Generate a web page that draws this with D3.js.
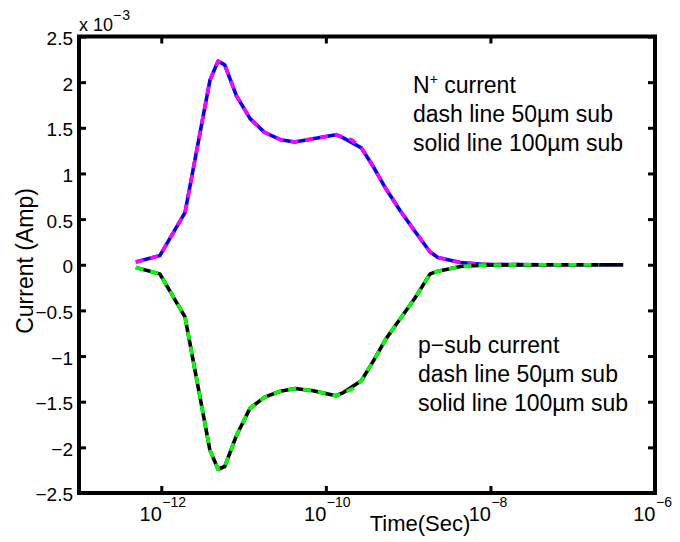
<!DOCTYPE html>
<html>
<head>
<meta charset="utf-8">
<script src="https://cdn.jsdelivr.net/npm/d3@7"></script>
<style>
  html, body { margin: 0; padding: 0; background: #fff; }
  text { font-family: "Liberation Sans", Arial, Helvetica, sans-serif; fill: #000; }
</style>
</head>
<body>
<script>
// ---- Data (current in units of 1e-3 A, time in seconds) ----
const timeSolid = [4.9e-13, 9.6e-13, 1.94e-12, 3.9e-12, 4.9e-12, 5.9e-12, 8.2e-12, 1.2e-11, 1.8e-11, 2.8e-11, 4.2e-11, 7.0e-11, 1.33e-10, 1.63e-10, 2.7e-10, 3.8e-10, 5.3e-10, 7.9e-10, 1.2e-9, 1.85e-9, 2.3e-9, 4.3e-9, 8e-9, 2e-8, 5e-8, 1e-7, 2e-7, 4.1e-7];
const nplusSolid = [0.03, 0.10, 0.57, 2.02, 2.23, 2.19, 1.85, 1.60, 1.45, 1.37, 1.345, 1.38, 1.425, 1.39, 1.28, 1.07, 0.84, 0.60, 0.37, 0.14, 0.08, 0.025, 0.005, 0.001, 0, 0, 0, 0];
const psubSolid = [-0.03, -0.10, -0.57, -2.03, -2.24, -2.21, -1.87, -1.57, -1.45, -1.385, -1.355, -1.38, -1.435, -1.40, -1.27, -1.05, -0.82, -0.60, -0.37, -0.10, -0.07, -0.02, -0.004, -0.001, 0, 0, 0, 0];

const timeDash = [4.9e-13, 9.6e-13, 1.94e-12, 3.9e-12, 4.9e-12, 5.9e-12, 8.2e-12, 1.2e-11, 1.8e-11, 2.8e-11, 4.2e-11, 7.0e-11, 1.33e-10, 2.1e-10, 2.7e-10, 3.8e-10, 5.3e-10, 7.9e-10, 1.2e-9, 1.85e-9, 2.3e-9, 4.3e-9, 8e-9, 2e-8, 5e-8, 1e-7, 2.1e-7];
const nplusDash = [0.03, 0.10, 0.57, 2.02, 2.23, 2.19, 1.85, 1.60, 1.45, 1.37, 1.345, 1.38, 1.425, 1.365, 1.28, 1.07, 0.84, 0.60, 0.37, 0.14, 0.08, 0.025, 0.005, 0.001, 0, 0, 0];
const psubDash = [-0.03, -0.10, -0.57, -2.03, -2.24, -2.21, -1.87, -1.57, -1.45, -1.385, -1.355, -1.38, -1.435, -1.36, -1.27, -1.05, -0.82, -0.60, -0.37, -0.10, -0.07, -0.02, -0.004, -0.001, 0, 0, 0];

const xTicks = [1e-12, 1e-10, 1e-8, 1e-6];
const yTicks = [-2.5, -2, -1.5, -1, -0.5, 0, 0.5, 1, 1.5, 2, 2.5];

const nplusText = ["current", "dash line 50\u00b5m sub", "solid line 100\u00b5m sub"];
const psubText = ["p\u2212sub current", "dash line 50\u00b5m sub", "solid line 100\u00b5m sub"];

// ---- Layout ----
const W = 680, H = 542;
const L = 79, R = 655, T = 36.5, B = 493;

const svg = d3.select("body").append("svg").attr("width", W).attr("height", H);
svg.append("rect").attr("width", W).attr("height", H).attr("fill", "#fff");

const x = d3.scaleLog().domain([1e-13, 1e-6]).range([L, R]);
const y = d3.scaleLinear().domain([-2.5, 2.5]).range([B, T]);

const lineGen = (ts) => d3.line().x((d, i) => x(ts[i])).y(d => y(d));

// ---- Curves ----
const curves = [
  { t: timeSolid, v: nplusSolid, color: "#0000ff", dash: null },
  { t: timeDash,  v: nplusDash,  color: "#ff00ff", dash: "8,7" },
  { t: timeSolid, v: psubSolid,  color: "#000000", dash: null },
  { t: timeDash,  v: psubDash,   color: "#00ff00", dash: "8,7" }
];
curves.forEach(c => {
  svg.append("path")
    .attr("d", lineGen(c.t)(c.v))
    .attr("fill", "none")
    .attr("stroke", c.color)
    .attr("stroke-width", 3.6)
    .attr("stroke-linejoin", "round")
    .attr("stroke-dasharray", c.dash);
});

// ---- Axes ----
const tickLen = 7;
function styleAxis(g) {
  g.select(".domain").remove();
  g.selectAll(".tick line").attr("stroke", "#000").attr("stroke-width", 3);
}
svg.append("g").attr("transform", `translate(0,${B})`)
  .call(d3.axisBottom(x).tickValues(xTicks).tickSizeInner(-tickLen).tickSizeOuter(0).tickFormat(() => ""))
  .call(styleAxis)
  .call(g => {
    g.selectAll(".tick").each(function(d) {
      const e = Math.round(Math.log10(d));
      const gt = d3.select(this);
      gt.append("text").attr("x", 0).attr("y", 28).attr("text-anchor", "end")
        .attr("font-size", 20).text("10");
      gt.append("text").attr("x", 0.5).attr("y", 14).attr("text-anchor", "start")
        .attr("font-size", 14).text("\u2212" + Math.abs(e));
    });
  });
svg.append("g").attr("transform", `translate(0,${T})`)
  .call(d3.axisTop(x).tickValues(xTicks).tickSizeInner(-tickLen).tickSizeOuter(0).tickFormat(() => ""))
  .call(styleAxis);
svg.append("g").attr("transform", `translate(${L},0)`)
  .call(d3.axisLeft(y).tickValues(yTicks).tickSizeInner(-tickLen).tickSizeOuter(0)
    .tickFormat(v => (v < 0 ? "\u2212" : "") + Math.abs(v)))
  .call(styleAxis)
  .call(g => g.selectAll(".tick text")
    .attr("x", -6).attr("dy", "0.42em").attr("font-size", 19)
    .attr("font-family", "Liberation Sans, Arial, sans-serif").attr("fill", "#000"));
svg.append("g").attr("transform", `translate(${R},0)`)
  .call(d3.axisRight(y).tickValues(yTicks).tickSizeInner(-tickLen).tickSizeOuter(0).tickFormat(() => ""))
  .call(styleAxis);

// Frame
svg.append("rect").attr("x", L).attr("y", T).attr("width", R - L).attr("height", B - T)
  .attr("fill", "none").attr("stroke", "#000").attr("stroke-width", 4);

// Exponent multiplier
svg.append("text").attr("x", L).attr("y", 31).attr("font-size", 18).text("x 10");
svg.append("text").attr("x", 113).attr("y", 20).attr("font-size", 14).attr("letter-spacing", 1).text("\u22123");

// Axis labels
svg.append("text").attr("x", 420).attr("y", 531).attr("text-anchor", "middle")
  .attr("font-size", 22).text("Time(Sec)");
svg.append("text").attr("transform", "translate(33,261) rotate(-90)").attr("text-anchor", "middle")
  .attr("font-size", 23).text("Current (Amp)");

// Annotations
const nY = [93, 122, 151];
const a0 = svg.append("text").attr("x", 413).attr("y", nY[0]).attr("font-size", 23);
a0.append("tspan").text("N");
a0.append("tspan").attr("dy", -9).attr("font-size", 14).text("+");
a0.append("tspan").attr("dy", 9).text(" " + nplusText[0]);
nplusText.slice(1).forEach((s, i) => {
  svg.append("text").attr("x", 413).attr("y", nY[i + 1]).attr("font-size", 23).text(s);
});
const pY = [353, 382, 411];
psubText.forEach((s, i) => {
  svg.append("text").attr("x", 418).attr("y", pY[i]).attr("font-size", 23).text(s);
});
</script>
</body>
</html>
